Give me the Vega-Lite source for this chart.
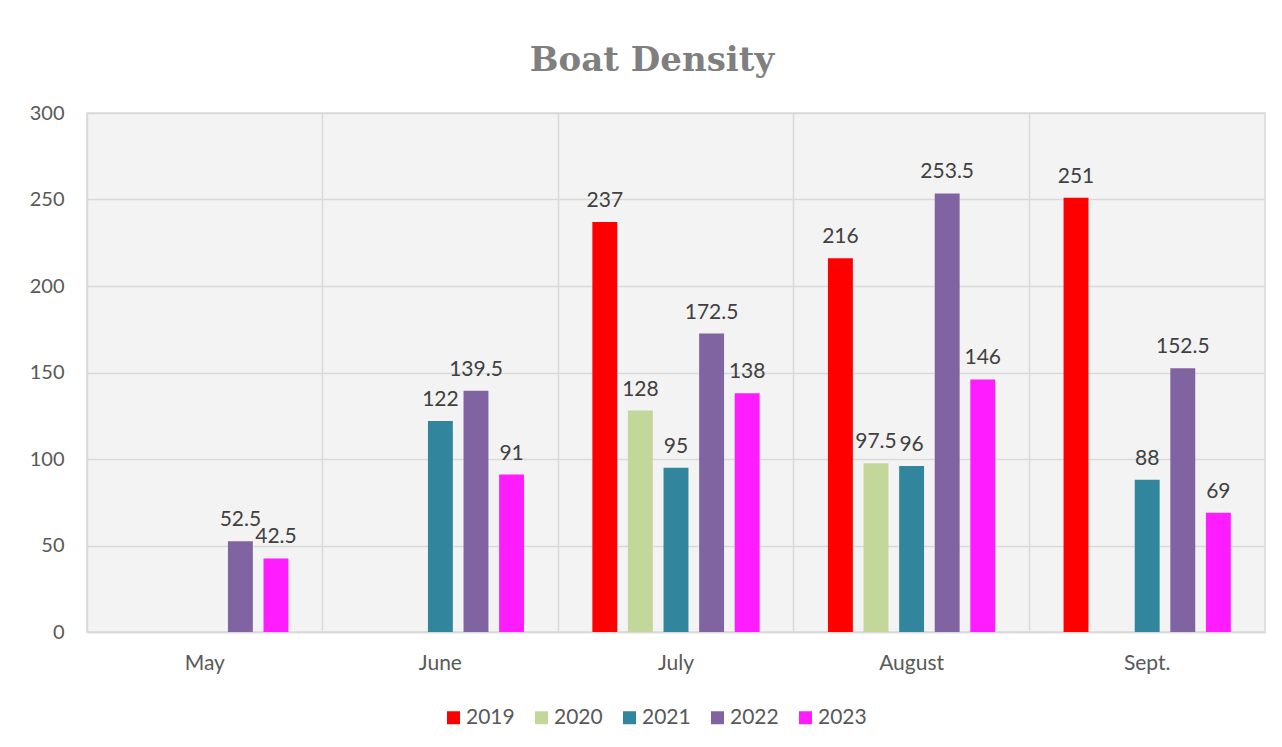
{
  "$schema": "https://vega.github.io/schema/vega-lite/v6.json",
  "width": 1178,
  "height": 519,
  "autosize": {"type": "none"},
  "padding": {"left": 87, "top": 113, "right": 17, "bottom": 115},
  "background": "white",
  "title": {
    "text": "Boat Density",
    "font": "DejaVu Serif",
    "fontSize": 34,
    "fontWeight": "bold",
    "color": "#7f7f7f",
    "anchor": "middle",
    "dx": -24,
    "offset": 25
  },
  "data": {
    "values": [
      {"month": "May", "year": "2022", "value": 52.5},
      {"month": "May", "year": "2023", "value": 42.5},
      {"month": "June", "year": "2021", "value": 122},
      {"month": "June", "year": "2022", "value": 139.5},
      {"month": "June", "year": "2023", "value": 91},
      {"month": "July", "year": "2019", "value": 237},
      {"month": "July", "year": "2020", "value": 128},
      {"month": "July", "year": "2021", "value": 95},
      {"month": "July", "year": "2022", "value": 172.5},
      {"month": "July", "year": "2023", "value": 138},
      {"month": "August", "year": "2019", "value": 216},
      {"month": "August", "year": "2020", "value": 97.5},
      {"month": "August", "year": "2021", "value": 96},
      {"month": "August", "year": "2022", "value": 253.5},
      {"month": "August", "year": "2023", "value": 146},
      {"month": "Sept.", "year": "2019", "value": 251},
      {"month": "Sept.", "year": "2021", "value": 88},
      {"month": "Sept.", "year": "2022", "value": 152.5},
      {"month": "Sept.", "year": "2023", "value": 69}
    ]
  },
  "encoding": {
    "x": {
      "field": "month",
      "type": "nominal",
      "sort": ["May", "June", "July", "August", "Sept."],
      "scale": {"paddingInner": 0, "paddingOuter": 0},
      "axis": {
        "title": null,
        "labelAngle": 0,
        "labelFont": "Lato",
        "labelFontSize": 21,
        "labelColor": "#595959",
        "labelPadding": 20,
        "ticks": false,
        "domainColor": "#d9d9d9",
        "domainWidth": 1.5,
        "grid": true,
        "gridColor": "#d9d9d9",
        "gridWidth": 1.5,
        "bandPosition": 0
      }
    },
    "xOffset": {
      "field": "year",
      "type": "nominal",
      "scale": {"paddingInner": 0.3, "paddingOuter": 0.96}
    },
    "y": {
      "field": "value",
      "type": "quantitative",
      "scale": {"domain": [0, 300]},
      "axis": {
        "title": null,
        "values": [0, 50, 100, 150, 200, 250, 300],
        "labelFont": "Lato",
        "labelFontSize": 20,
        "labelColor": "#595959",
        "labelPadding": 23,
        "ticks": false,
        "domain": false,
        "gridColor": "#d9d9d9",
        "gridWidth": 1.5
      }
    }
  },
  "layer": [
    {
      "mark": {"type": "bar"},
      "encoding": {
        "color": {
          "field": "year",
          "type": "nominal",
          "scale": {
            "domain": ["2019", "2020", "2021", "2022", "2023"],
            "range": ["#ff0000", "#c4d79b", "#31859c", "#8064a2", "#ff1cff"]
          },
          "legend": {
            "title": null,
            "orient": "none",
            "direction": "horizontal",
            "legendX": 356,
            "legendY": 594,
            "symbolType": "square",
            "symbolSize": 169,
            "symbolStrokeWidth": 0,
            "labelFont": "Lato",
            "labelFontSize": 21,
            "labelColor": "#595959",
            "columnPadding": 16,
            "labelOffset": 2
          }
        }
      }
    },
    {
      "mark": {
        "type": "text",
        "baseline": "bottom",
        "dy": -11,
        "font": "Lato",
        "fontSize": 21,
        "color": "#404040"
      },
      "encoding": {
        "text": {"field": "value", "type": "quantitative"}
      }
    }
  ],
  "config": {
    "view": {"fill": "#f3f3f3", "stroke": "#d9d9d9", "strokeWidth": 1.5}
  }
}
